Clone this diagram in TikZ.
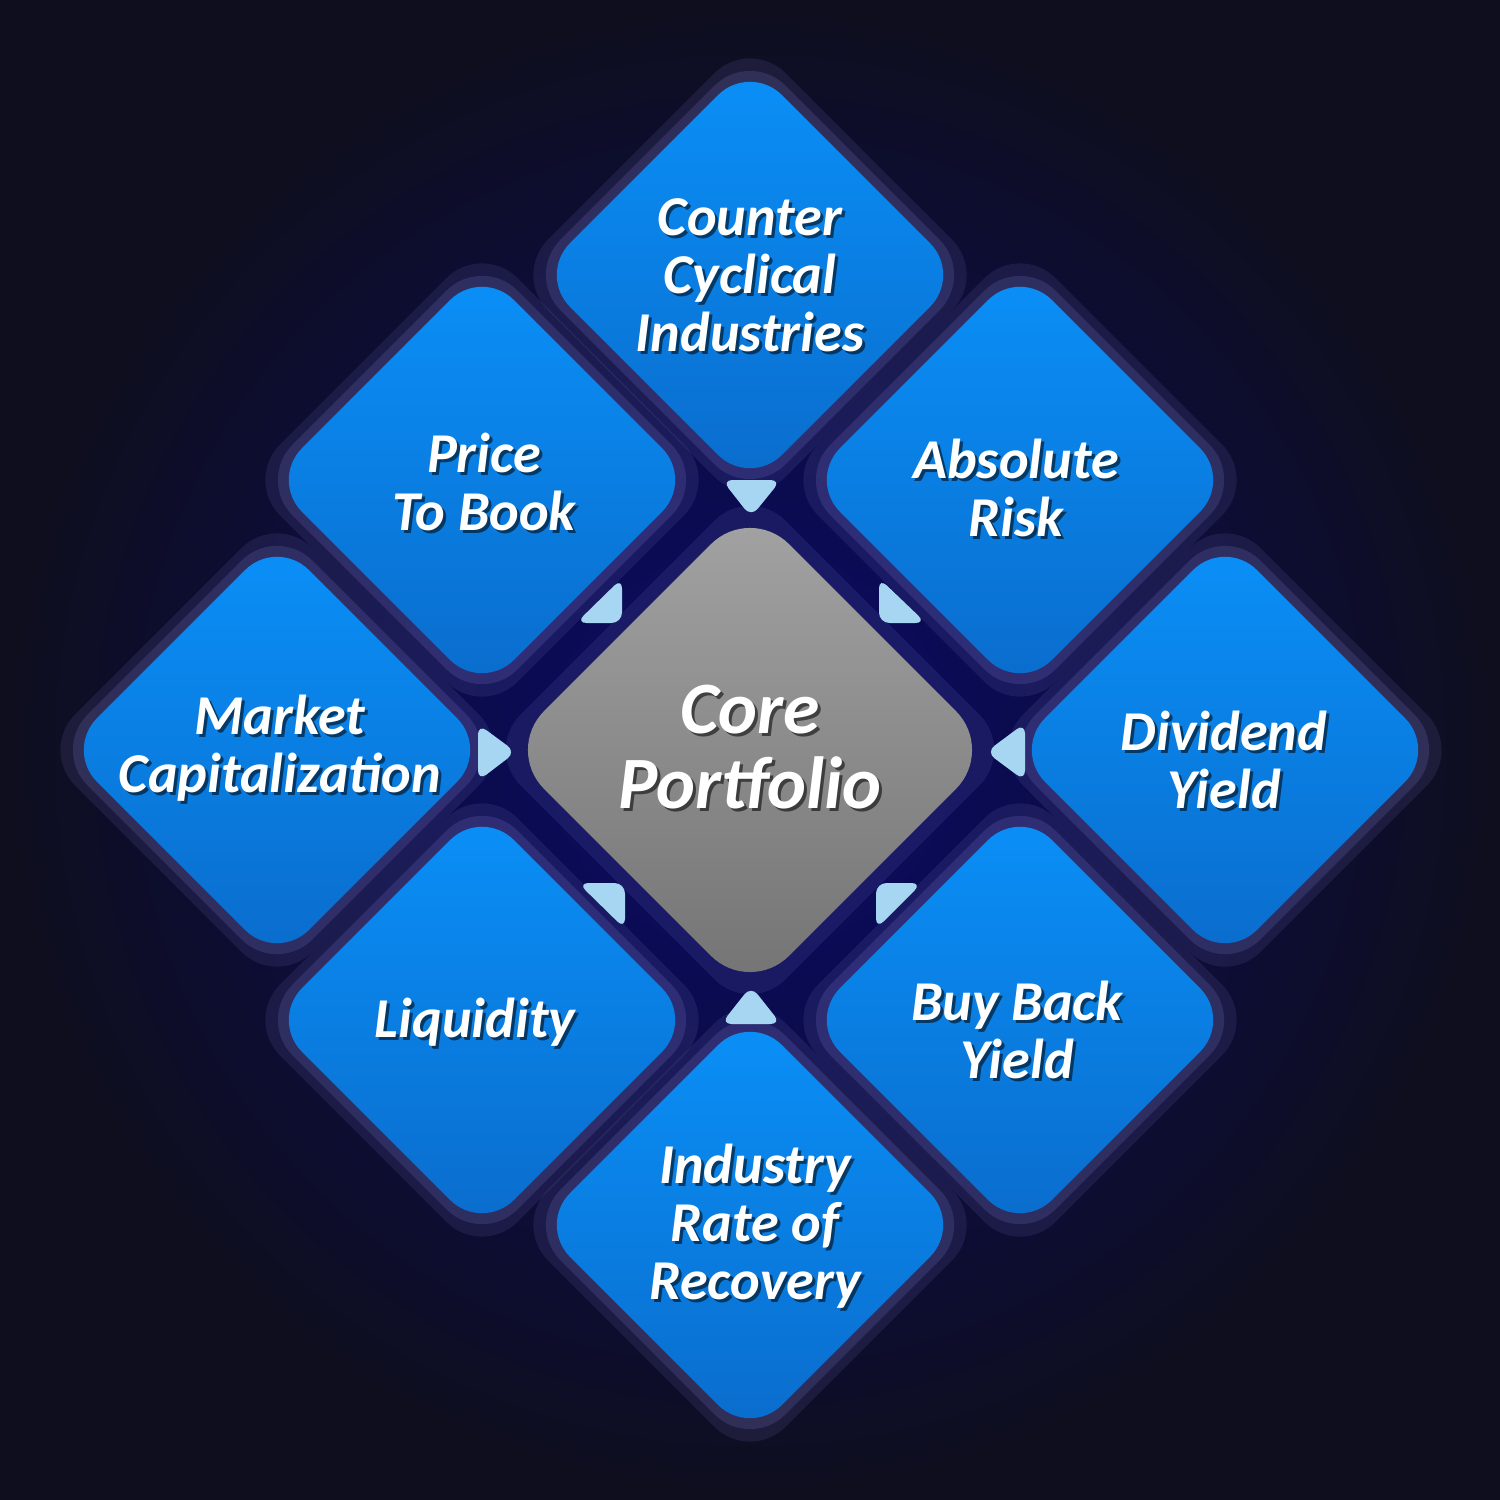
\documentclass[tikz,border=0pt]{standalone}
\usepackage{fontspec}
\setmainfont{Carlito}
\usetikzlibrary{shapes.geometric}
\definecolor{bgin}{HTML}{0A0A6A}
\definecolor{bgout}{HTML}{0E0E1E}
\definecolor{dtop}{HTML}{0A90F8}
\definecolor{dbot}{HTML}{0A6CCC}
\definecolor{glowc}{HTML}{8A88D8}
\definecolor{tri}{HTML}{A6D6F2}
\tikzset{
  dia/.style={shape=diamond,aspect=1,inner sep=0pt,minimum width=4.24cm,minimum height=4.24cm,
    rounded corners=0.45cm,top color=dtop,bottom color=dbot,draw=none},
  core/.style={shape=diamond,aspect=1,inner sep=0pt,minimum width=4.9cm,minimum height=4.9cm,
    rounded corners=0.55cm,top color=gray!72,bottom color=gray!78!black!90,draw=none},
  glow/.style={shape=diamond,aspect=1,inner sep=0pt,rounded corners=0.5cm,fill=glowc,draw=none},
  lbl/.style={text=white,align=center,font=\fontsize{16}{16.5}\selectfont\bfseries\itshape},
  lbls/.style={text=black,opacity=0.55,align=center,font=\fontsize{16}{16.5}\selectfont\bfseries\itshape},
  big/.style={font=\fontsize{21}{21.5}\selectfont\bfseries\itshape},
  trif/.style={fill=tri,rounded corners=3pt}
}
\begin{document}
\begin{tikzpicture}[x=0.01cm,y=-0.01cm]
\useasboundingbox (0,0) rectangle (1500,1500);
\shade[inner color=bgin,outer color=bgout] (0,0) rectangle (1500,1500);
% glows
\foreach \a/\b in {750/275,482/480,1020/480,277/750,1225/750,482/1020,1020/1020,750/1225}{
  \node[glow,minimum width=4.75cm,minimum height=4.75cm,opacity=0.12] at (\a,\b) {};
  \node[glow,minimum width=4.5cm,minimum height=4.5cm,opacity=0.18] at (\a,\b) {};
}
\node[glow,minimum width=5.3cm,minimum height=5.3cm,opacity=0.12] at (750,750) {};
% diamonds
\node[dia] (cc) at (750,275) {};
\node[dia] (pb) at (482,480) {};
\node[dia] (ar) at (1020,480) {};
\node[dia] (mc) at (277,750) {};
\node[dia] (dy) at (1225,750) {};
\node[dia] (lq) at (482,1020) {};
\node[dia] (bb) at (1020,1020) {};
\node[dia] (ir) at (750,1225) {};
\node[core] (cp) at (750,750) {};
% labels
\foreach \a/\b/\t in {750/275/{Counter\\Cyclical\\Industries},484/482/{Price\\To Book},1016/488/{Absolute\\Risk},
  280/748/{Market\\Capitalization},1224/760/{Dividend\\Yield},475/1022/{Liquidity},1017/1030/{Buy Back\\Yield},
  755/1226/{Industry\\Rate of\\Recovery}}{
  \node[lbls] at (\a+3,\b+3) {\t};
  \node[lbl] at (\a,\b) {\t};
}
\node[lbls,big] (cps) at (753,750) {Core\\Portfolio};
\node[lbl,big] (cpt) at (750,747) {Core\\Portfolio};
% triangles
\fill[trif] (722,480) -- (781,480) -- (751,517) -- cycle;
\fill[trif] (721,1024) -- (781,1024) -- (751,986) -- cycle;
\fill[trif] (478,724) -- (478,781) -- (516,752) -- cycle;
\fill[trif] (1025,723) -- (1025,781) -- (986,752) -- cycle;
\fill[trif] (622,578) -- (622,623) -- (576,623) -- cycle;
\fill[trif] (879,578) -- (879,623) -- (926,623) -- cycle;
\fill[trif] (578,883) -- (625,883) -- (625,929) -- cycle;
\fill[trif] (922,883) -- (876,883) -- (876,929) -- cycle;
\end{tikzpicture}
\end{document}
